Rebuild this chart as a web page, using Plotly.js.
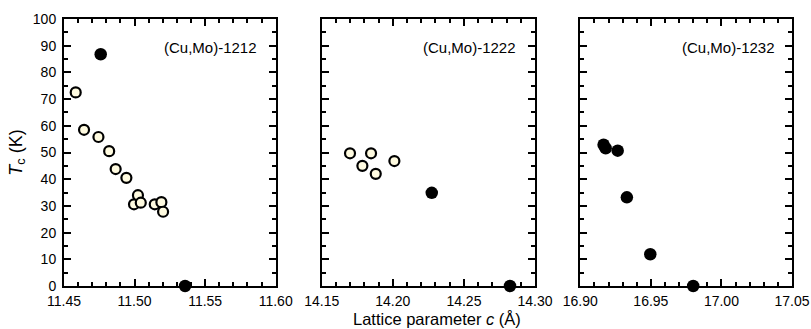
<!DOCTYPE html>
<html>
<head>
<meta charset="utf-8">
<script src="https://cdn.plot.ly/plotly-3.0.1.min.js"></script>
<style>html,body{margin:0;padding:0;background:#fff;}#chart{width:811px;height:329px;}</style>
</head>
<body>
<div id="chart"></div>
<script>
// Panel labels and axis ranges
const panelLabels = ["(Cu,Mo)-1212", "(Cu,Mo)-1222", "(Cu,Mo)-1232"];
const xRanges = [[11.45, 11.60], [14.15, 14.30], [16.90, 17.05]];
const yRange = [0, 100];

// (Cu,Mo)-1212
const c1212_open_c  = [11.4583, 11.4642, 11.4744, 11.4820, 11.4866, 11.4942, 11.4996, 11.5024, 11.5044, 11.5143, 11.5190, 11.5202];
const c1212_open_tc = [72.5, 58.5, 55.8, 50.5, 43.8, 40.5, 30.6, 34.0, 31.2, 30.6, 31.4, 27.8];
const c1212_fill_c  = [11.4760, 11.5358];
const c1212_fill_tc = [86.8, 0];

// (Cu,Mo)-1222
const c1222_open_c  = [14.1699, 14.1786, 14.1847, 14.1880, 14.2011];
const c1222_open_tc = [49.7, 45.0, 49.7, 42.0, 46.8];
const c1222_fill_c  = [14.2274, 14.2824];
const c1222_fill_tc = [34.9, 0];

// (Cu,Mo)-1232
const c1232_fill_c  = [16.9165, 16.9180, 16.9265, 16.9330, 16.9496, 16.9800];
const c1232_fill_tc = [52.9, 51.6, 50.7, 33.2, 11.9, 0];

const openFill = "#FFFBE0";
const FONT = "Liberation Sans, Arial, Helvetica, sans-serif";

const doms = [[0, 0.2908], [0.354, 0.647], [0.7092, 1.0]];

function openTrace(x, y, xa, ya) {
  return {x: x, y: y, xaxis: xa, yaxis: ya, type: "scatter", mode: "markers", cliponaxis: false,
    marker: {size: 10, color: openFill, line: {color: "#000", width: 2.2}}, showlegend: false, hoverinfo: "none"};
}
function fillTrace(x, y, xa, ya) {
  return {x: x, y: y, xaxis: xa, yaxis: ya, type: "scatter", mode: "markers", cliponaxis: false,
    marker: {size: 12.5, color: "#000", line: {color: "#000", width: 0}}, showlegend: false, hoverinfo: "none"};
}

const data = [
  openTrace(c1212_open_c, c1212_open_tc, "x", "y"),
  fillTrace(c1212_fill_c, c1212_fill_tc, "x", "y"),
  openTrace(c1222_open_c, c1222_open_tc, "x2", "y2"),
  fillTrace(c1222_fill_c, c1222_fill_tc, "x2", "y2"),
  fillTrace(c1232_fill_c, c1232_fill_tc, "x3", "y3")
];

const tf = {family: FONT, size: 14, color: "#000"};

function xAxis(i) {
  return {range: xRanges[i], domain: doms[i], anchor: i === 0 ? "y" : "y" + (i + 1),
    tickmode: "linear", dtick: 0.05, tick0: xRanges[i][0], tickformat: ".2f",
    ticks: "inside", ticklen: 7, tickwidth: 2, tickcolor: "#000",
    minor: {ticks: "inside", dtick: 0.01, ticklen: 4, tickwidth: 1.6, tickcolor: "#000", showgrid: false},
    showline: true, linecolor: "#000", linewidth: 2, mirror: "allticks",
    showgrid: false, zeroline: false, fixedrange: true, ticklabelstandoff: 1, tickfont: tf};
}
function yAxis(i) {
  return {range: yRange, domain: [0, 1], anchor: i === 0 ? "x" : "x" + (i + 1),
    tickmode: "linear", dtick: 10, tick0: 0,
    ticks: "inside", ticklen: 7, tickwidth: 2, tickcolor: "#000",
    minor: {ticks: "inside", dtick: 5, ticklen: 4, tickwidth: 1.6, tickcolor: "#000", showgrid: false},
    showline: true, linecolor: "#000", linewidth: 2, mirror: "allticks",
    showgrid: false, zeroline: false, fixedrange: true, showticklabels: i === 0, ticklabelstandoff: 3, tickfont: tf};
}

const annFont = {family: FONT, size: 15, color: "#000"};
const layout = {
  width: 811, height: 329,
  margin: {l: 64, r: 19, t: 19, b: 43},
  paper_bgcolor: "#fff", plot_bgcolor: "#fff",
  font: {family: FONT, color: "#000"},
  showlegend: false,
  xaxis: xAxis(0), xaxis2: xAxis(1), xaxis3: xAxis(2),
  yaxis: Object.assign(yAxis(0), {title: {text: "<i>T</i><sub>c</sub> (K)", font: {family: FONT, size: 18, color: "#000"}, standoff: 6}}),
  yaxis2: yAxis(1), yaxis3: yAxis(2),
  annotations: [
    {text: panelLabels[0], xref: "x domain", yref: "y domain", x: 0.922, y: 0.895, xanchor: "right", yanchor: "middle", showarrow: false, font: annFont},
    {text: panelLabels[1], xref: "x2 domain", yref: "y2 domain", x: 0.922, y: 0.895, xanchor: "right", yanchor: "middle", showarrow: false, font: annFont},
    {text: panelLabels[2], xref: "x3 domain", yref: "y3 domain", x: 0.929, y: 0.895, xanchor: "right", yanchor: "middle", showarrow: false, font: annFont},
    {text: "Lattice parameter <i>c</i> (Å)", xref: "paper", yref: "paper", x: 0.5125, y: -0.164, xanchor: "center", yanchor: "bottom", showarrow: false, font: {family: FONT, size: 16.5, color: "#000"}}
  ]
};

Plotly.newPlot("chart", data, layout, {displayModeBar: false});
</script>
</body>
</html>
